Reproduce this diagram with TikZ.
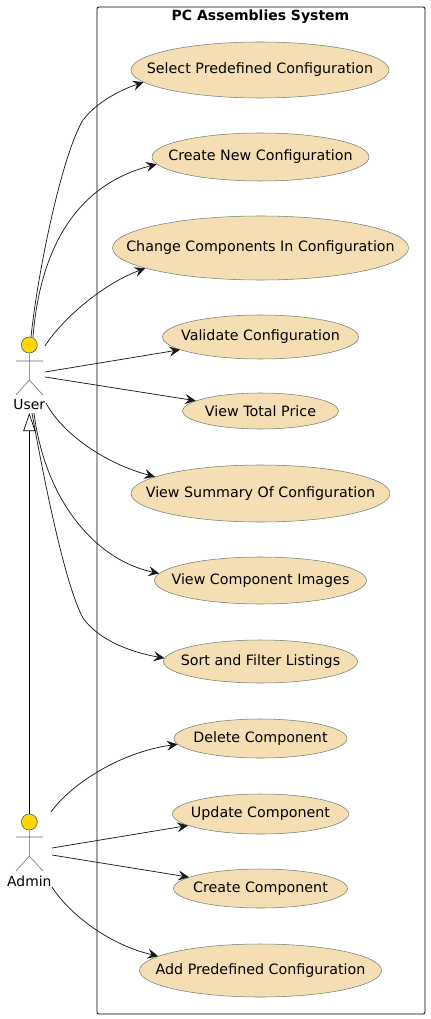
\documentclass[tikz,border=0pt]{standalone}
\usepackage{fontspec}
\setmainfont{DejaVu Sans}
\usetikzlibrary{arrows.meta,shapes.geometric}
\definecolor{usecasefill}{HTML}{F5DEB3}
\definecolor{usecaseline}{HTML}{6E7F6E}
\definecolor{actorhead}{HTML}{FFD700}
\definecolor{linkline}{HTML}{181818}
\newcommand{\uctext}[1]{\makebox[0pt]{#1}}
\tikzset{
    usecase/.style={draw=usecaseline, fill=usecasefill, ellipse, inner sep=0pt, line width=0.4pt, font=\fontsize{10.7}{12}\selectfont},
    actorlabel/.style={inner sep=0pt, font=\fontsize{10.4}{12}\selectfont},
    actorhd/.style={circle, draw=black!70, fill=actorhead, minimum size=12pt, inner sep=0pt, line width=0.4pt},
    stick/.style={draw=black!60, line width=0.4pt},
    assoc/.style={draw=linkline, line width=0.55pt, -{Stealth[length=8pt,width=7.5pt,inset=3pt]}},
}
\begin{document}
\begin{tikzpicture}[x=0.75pt, y=-0.75pt]
    \useasboundingbox (0,0) rectangle (430,1019);

    % System box
    \draw[black, line width=0.6pt, rounded corners=1.5pt] (97,7) rectangle (425,1014);
    \node[inner sep=0pt, font=\bfseries\fontsize{10.5}{12}\selectfont] (title) at (260.5,17) {PC Assemblies System};

    % Use cases
    \node[usecase, minimum width=193.5pt, minimum height=42pt] (select) at (260,70) {\uctext{Select Predefined Configuration}};
    \node[usecase, minimum width=162.75pt, minimum height=36pt] (createnew) at (260.5,157) {\uctext{Create New Configuration}};
    \node[usecase, minimum width=222pt, minimum height=48pt] (change) at (260.5,248) {\uctext{Change Components In Configuration}};
    \node[usecase, minimum width=147pt, minimum height=33pt] (validate) at (260.5,337) {\uctext{Validate Configuration}};
    \node[usecase, minimum width=117pt, minimum height=27pt] (total) at (260.5,411) {\uctext{View Total Price}};
    \node[usecase, minimum width=194.25pt, minimum height=42.75pt] (summary) at (260.5,493.5) {\uctext{View Summary Of Configuration}};
    \node[usecase, minimum width=159pt, minimum height=35.25pt] (images) at (260.5,580.5) {\uctext{View Component Images}};
    \node[usecase, minimum width=145.5pt, minimum height=32.25pt] (sort) at (260.5,661.5) {\uctext{Sort and Filter Listings}};
    \node[usecase, minimum width=129.75pt, minimum height=29.25pt] (delete) at (260.5,738.5) {\uctext{Delete Component}};
    \node[usecase, minimum width=132pt, minimum height=30pt] (update) at (260.5,814) {\uctext{Update Component}};
    \node[usecase, minimum width=130.5pt, minimum height=29.25pt] (create) at (260.5,888.5) {\uctext{Create Component}};
    \node[usecase, minimum width=181.5pt, minimum height=39.75pt] (add) at (260.5,970.5) {\uctext{Add Predefined Configuration}};

    % User
    \node[actorhd] (userhead) at (29.3,345) {};
    \draw[stick] (userhead.south) -- (29.3,380) (16,361) -- (43,361) (16,395) -- (29.3,380) -- (43,395);
    \node[actorlabel] (user) at (29.3,404.5) {User};

    % Admin
    \node[actorhd] (adminhead) at (29.3,822) {};
    \draw[stick] (adminhead.south) -- (29.3,856) (16,837) -- (43,837) (16,871) -- (29.3,856) -- (43,871);
    \node[actorlabel] (admin) at (29.3,881) {Admin};

    % Free ends at the actors
    \coordinate (u1) at (31,337);
    \coordinate (u2) at (33,337);
    \coordinate (u3) at (45,346);
    \coordinate (u4) at (45,372);
    \coordinate (u5) at (45,377);
    \coordinate (u6) at (46,403);
    \coordinate (u7) at (34,413);
    \coordinate (u8) at (32,413);
    \coordinate (a1) at (51,812);
    \coordinate (a2) at (52,848);
    \coordinate (a3) at (52,855);
    \coordinate (a4) at (52,887);

    % Associations
    \draw[assoc] (u1) .. controls (38,270) and (62,155) .. (83,120) .. controls (97,102) and (120,90) .. (select.186);
    \draw[assoc] (u2) .. controls (40,250) and (75,185) .. (createnew.184);
    \draw[assoc] (u3) .. controls (60,322) and (100,285) .. (change.190);
    \draw[assoc] (u4) -- (validate.189);
    \draw[assoc] (u5) -- (total.171);
    \draw[assoc] (u6) .. controls (60,430) and (100,462) .. (summary.171);
    \draw[assoc] (u7) .. controls (45,500) and (95,560) .. (images.176);
    \draw[assoc] (u8) .. controls (44,480) and (65,585) .. (83,618) .. controls (100,642) and (135,653) .. (sort.178);
    \draw[assoc] (a1) .. controls (70,785) and (120,752) .. (delete.184);
    \draw[assoc] (a2) -- (update.189);
    \draw[assoc] (a3) -- (create.171);
    \draw[assoc] (a4) .. controls (70,915) and (110,945) .. (add.172);

    % Generalization
    \draw[black, line width=0.5pt, -{Triangle[open,length=13.5pt,width=9pt]}] (adminhead.north) -- (29.3,413);
\end{tikzpicture}
\end{document}
